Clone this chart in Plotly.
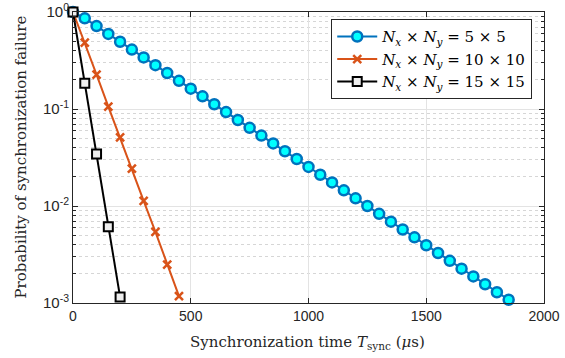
import plotly.graph_objects as go

# synchronization time in microseconds
t_5 = [0, 50, 100, 150, 200, 250, 300, 350, 400, 450, 500, 550, 600, 650, 700, 750,
       800, 850, 900, 950, 1000, 1050, 1100, 1150, 1200, 1250, 1300, 1350, 1400,
       1450, 1500, 1550, 1600, 1650, 1700, 1750, 1800, 1850]
p_5 = [1.0, 0.861, 0.716, 0.594, 0.494, 0.410, 0.340, 0.283, 0.235, 0.195, 0.162,
       0.135, 0.112, 0.0929, 0.0771, 0.0640, 0.0532, 0.0442, 0.0367, 0.0305, 0.0253,
       0.0210, 0.0175, 0.0145, 0.0120, 0.0100, 0.00830, 0.00689, 0.00573, 0.00475,
       0.00394, 0.00328, 0.00272, 0.00226, 0.00188, 0.00156, 0.00129, 0.00108]

t_10 = [0, 50, 100, 150, 200, 250, 300, 350, 400, 450]
p_10 = [1.0, 0.483, 0.226, 0.106, 0.051, 0.0243, 0.0113, 0.0054, 0.00248, 0.00118]

t_15 = [0, 50, 100, 150, 200]
p_15 = [1.0, 0.184, 0.0344, 0.00612, 0.00115]

names = ["<i>N<sub>x</sub></i> × <i>N<sub>y</sub></i> = 5 × 5",
         "<i>N<sub>x</sub></i> × <i>N<sub>y</sub></i> = 10 × 10",
         "<i>N<sub>x</sub></i> × <i>N<sub>y</sub></i> = 15 × 15"]

ytick_vals = [1e-3, 1e-2, 1e-1, 1]
ytick_text = ["10<sup>-3</sup>", "10<sup>-2</sup>", "10<sup>-1</sup>", "10<sup>0</sup>"]
minor_vals = [m * d for d in [1e-3, 1e-2, 1e-1] for m in range(2, 10)]

serif = "DejaVu Serif"
sans = "Liberation Sans"
axcol = "#262626"

fig = go.Figure()
fig.add_trace(go.Scatter(
    x=t_5, y=p_5, name=names[0], mode="lines+markers", cliponaxis=False,
    line=dict(color="#0072BD", width=2),
    marker=dict(symbol="circle", size=10, color="#00FFFF",
                line=dict(color="#0072BD", width=2.5))
))
fig.add_trace(go.Scatter(
    x=t_10, y=p_10, name=names[1], mode="lines+markers", cliponaxis=False,
    line=dict(color="#D95319", width=2),
    marker=dict(symbol="x-thin", size=8, color="#D95319",
                line=dict(color="#D95319", width=2.5))
))
fig.add_trace(go.Scatter(
    x=t_15, y=p_15, name=names[2], mode="lines+markers", cliponaxis=False,
    line=dict(color="black", width=2),
    marker=dict(symbol="square", size=9, color="#EEEEEE",
                line=dict(color="black", width=2))
))

fig.update_layout(
    width=565, height=358,
    margin=dict(l=73, r=21, t=12, b=55),
    paper_bgcolor="white", plot_bgcolor="white",
    font=dict(family=sans, size=14, color=axcol),
    legend=dict(
        x=0.975, y=0.975, xanchor="right", yanchor="top",
        bgcolor="white", bordercolor=axcol, borderwidth=1,
        font=dict(family=serif, size=15, color="black"),
        tracegroupgap=0, itemwidth=40
    ),
)
fig.add_annotation(
    text="Synchronization time <i>T</i><sub>sync</sub> (<i>μ</i>s)",
    xref="paper", yref="paper", x=0.497, y=-0.137, xanchor="center", yanchor="middle",
    showarrow=False, font=dict(family=serif, size=15, color=axcol)
)
fig.add_annotation(
    text="Probability of synchronization failure", textangle=-90,
    xref="paper", yref="paper", x=-0.1125, y=0.5, xanchor="center", yanchor="middle",
    showarrow=False, font=dict(family=serif, size=15, color=axcol)
)
fig.update_xaxes(
    range=[0, 2000], tickvals=[0, 500, 1000, 1500, 2000],
    ticks="inside", ticklen=5, tickcolor=axcol,
    showline=True, linecolor=axcol, linewidth=1, mirror="ticks",
    showgrid=True, gridcolor="#E3E3E3", gridwidth=1, zeroline=False,
    tickfont=dict(family=sans, size=14, color=axcol),
    automargin=False,
)
fig.update_yaxes(
    type="log", range=[-3, 0],
    tickvals=ytick_vals, ticktext=ytick_text,
    ticks="inside", ticklen=5, tickcolor=axcol,
    showline=True, linecolor=axcol, linewidth=1, mirror="ticks",
    showgrid=True, gridcolor="#E3E3E3", gridwidth=1, zeroline=False,
    minor=dict(tickmode="array", tickvals=minor_vals,
               ticks="inside", ticklen=3, tickcolor=axcol, showgrid=True,
               gridcolor="#D6D6D6", griddash="dot", gridwidth=1),
    tickfont=dict(family=sans, size=15, color=axcol),
    automargin=False,
)

# drop the default 8px body margin so the figure fills the window
fig.write_html("out.html", config={"displayModeBar": False},
               post_script="document.body.style.margin='0';")
